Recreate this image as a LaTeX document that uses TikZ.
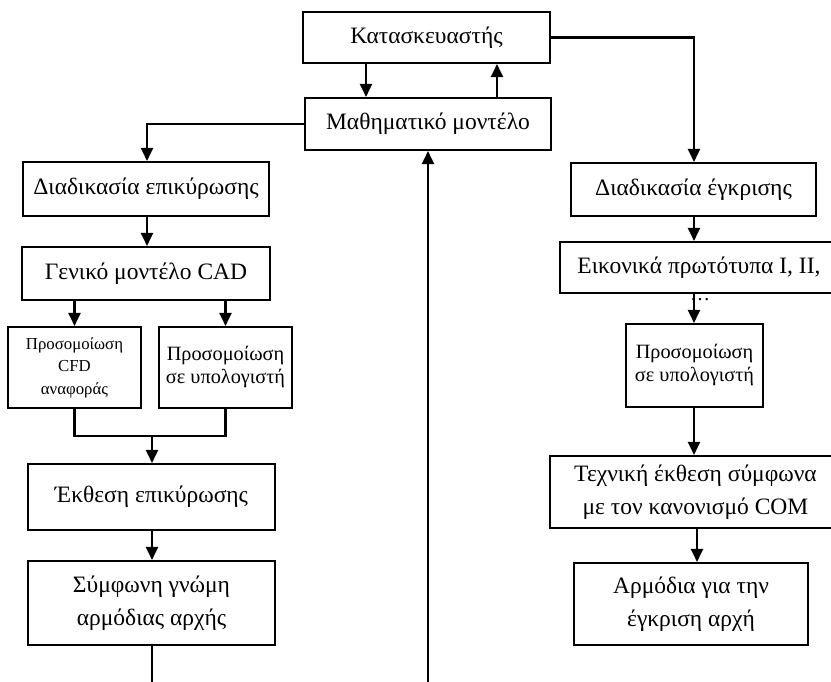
\documentclass[tikz,border=0pt]{standalone}
\usepackage{fontspec}
\setmainfont{Liberation Serif}
\usetikzlibrary{arrows.meta}
\begin{document}
\begin{tikzpicture}[x=1pt,y=1pt,
  box/.style={draw, line width=2.1pt, inner sep=0pt, align=center, font=\fontsize{23.5}{33}\selectfont},
  smallbox/.style={box, font=\fontsize{20.3}{23}\selectfont},
  tinybox/.style={box, font=\fontsize{16.8}{22.5}\selectfont},
  arr/.style={line width=2.1pt, -{Triangle[length=13pt,width=12pt]}},
  ln/.style={line width=2.1pt}]
\useasboundingbox (0,0) rectangle (831,-682);
\begin{scope}
\clip (0,0) rectangle (831,-682);
% nodes
\node[box, minimum width=247, minimum height=51] (kat) at (426.5,-37.5) {Κατασκευαστής};
\node[box, minimum width=246, minimum height=52] (math) at (428,-124) {Μαθηματικό μοντέλο};
\node[box, minimum width=246, minimum height=54] (val) at (146,-189) {Διαδικασία επικύρωσης};
\node[box, minimum width=248, minimum height=53] (cad) at (146,-273.5) {Γενικό μοντέλο CAD};
\node[tinybox, minimum width=133, minimum height=81] (cfd) at (74.5,-367.5) {Προσομοίωση\\CFD\\αναφοράς};
\node[smallbox, minimum width=133, minimum height=81] (simL) at (225.5,-367.5) {Προσομοίωση\\σε υπολογιστή};
\node[box, minimum width=247, minimum height=66] (rep) at (151.5,-497) {Έκθεση επικύρωσης};
\node[box, minimum width=247, minimum height=84] (opin) at (151.5,-603) {Σύμφωνη γνώμη\\αρμόδιας αρχής};
\node[box, minimum width=245, minimum height=53] (appr) at (693.5,-189.5) {Διαδικασία έγκρισης};
\node[box, minimum width=278, minimum height=51] (virt) at (699,-267.5) {Εικονικά πρωτότυπα I, II,};
\node[font=\fontsize{20}{20}\selectfont, inner sep=0pt] (dots) at (700,-300) {…};
\node[smallbox, minimum width=137, minimum height=83] (simR) at (694.5,-365.5) {Προσομοίωση\\σε υπολογιστή};
\node[box, minimum width=291, minimum height=72] (tech) at (695.5,-492) {Τεχνική έκθεση σύμφωνα\\με τον κανονισμό COM};
\node[box, minimum width=234, minimum height=82] (comp) at (691,-604) {Αρμόδια για την\\έγκριση αρχή};
% helper coordinates
\coordinate (xa) at (366,0);
\coordinate (xb) at (497,0);
\coordinate (xr) at (694,0);
\coordinate (xl) at (147,0);
\coordinate (join) at (152,-436);
\coordinate (botL) at (152,-682);
\coordinate (botM) at (428,-682);
\coordinate (xt) at (697,0);
% connectors
\draw[arr] (kat.south -| xa) -- (math.north -| xa);
\draw[arr] (math.north -| xb) -- (kat.south -| xb);
\draw[arr] (kat.east) -| (appr.north -| xr);
\draw[arr] (math.west) -| (val.north -| xl);
\draw[arr] (val.south -| xl) -- (cad.north -| xl);
\draw[arr] (cad.south -| cfd.north) -- (cfd.north);
\draw[arr] (cad.south -| simL.north) -- (simL.north);
\draw[ln] (cfd.south) |- (join) -| (simL.south);
\draw[arr] (join) -- (rep.north -| join);
\draw[arr] (rep.south -| join) -- (opin.north -| join);
\draw[ln] (opin.south -| botL) -- (botL);
\draw[arr] (botM) -- (math.south);
\draw[arr] (appr.south -| xr) -- (virt.north -| xr);
\draw[arr] (virt.south -| xr) -- (simR.north -| xr);
\draw[arr] (simR.south -| xr) -- (tech.north -| xr);
\draw[arr] (tech.south -| xt) -- (comp.north -| xt);
\end{scope}
\end{tikzpicture}
\end{document}
